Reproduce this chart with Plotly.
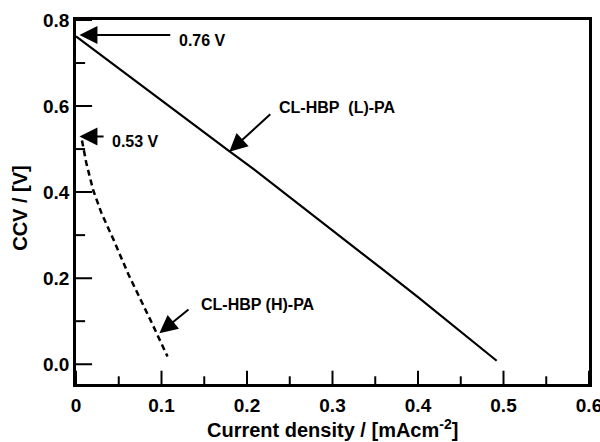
import plotly.graph_objects as go

# ---- data ----
l_pa_x = [0.0, 0.10, 0.18, 0.2035, 0.30, 0.3594, 0.40, 0.492]
l_pa_y = [0.762, 0.612, 0.494, 0.460, 0.312, 0.219, 0.156, 0.008]

h_pa_x = [0.007, 0.012, 0.020, 0.030, 0.044, 0.061, 0.087, 0.107]
h_pa_y = [0.520, 0.468, 0.405, 0.350, 0.289, 0.210, 0.103, 0.018]

x_tickvals = [0, 0.1, 0.2, 0.3, 0.4, 0.5, 0.6]
x_ticktext = ["0", "0.1", "0.2", "0.3", "0.4", "0.5", "0.6"]
x_minor = [0.05, 0.15, 0.25, 0.35, 0.45, 0.55]
y_tickvals = [0.0, 0.2, 0.4, 0.6, 0.8]
y_ticktext = ["0.0", "0.2", "0.4", "0.6", "0.8"]
y_minor = [0.1, 0.3, 0.5, 0.7]

X_RANGE = [0, 0.6]
Y_RANGE = [-0.046, 0.8]

FONT = "Liberation Sans, Arial, sans-serif"

fig = go.Figure()
fig.add_trace(go.Scatter(x=l_pa_x, y=l_pa_y, mode="lines",
                         line=dict(color="black", width=2.2), showlegend=False))
fig.add_trace(go.Scatter(x=h_pa_x, y=h_pa_y, mode="lines",
                         line=dict(color="black", width=2.5, dash="6px,4px"),
                         showlegend=False))

# inward tick marks: line markers sitting on the axis edges, half clipped by the plot area
def tick_marks(xs, ys, symbol, size):
    fig.add_trace(go.Scatter(x=xs, y=ys, mode="markers", cliponaxis=True,
                             hoverinfo="skip", showlegend=False,
                             marker=dict(symbol=symbol, size=size, color="black",
                                         line=dict(color="black", width=2))))

tick_marks(x_tickvals, [Y_RANGE[0]] * len(x_tickvals), "line-ns", 19)
tick_marks(x_minor, [Y_RANGE[0]] * len(x_minor), "line-ns", 11)
tick_marks([X_RANGE[0]] * len(y_tickvals), y_tickvals, "line-ew", 23)
tick_marks([X_RANGE[0]] * len(y_minor), y_minor, "line-ew", 13)

tickfont = dict(family=FONT, size=19, color="black", weight="bold")
axis_common = dict(showline=True, linecolor="black", linewidth=2.5, mirror=True,
                   ticks="", showgrid=False, zeroline=False, automargin=False,
                   ticklabeloverflow="allow", tickfont=tickfont, tickmode="array")

fig.update_xaxes(range=X_RANGE, tickvals=x_tickvals, ticktext=x_ticktext,
                 ticklabelstandoff=2, **axis_common)
fig.update_yaxes(range=Y_RANGE, tickvals=y_tickvals, ticktext=y_ticktext,
                 **axis_common)

ann_font = dict(family=FONT, size=16, color="black", weight="bold")
arrow_style = dict(showarrow=True, arrowhead=2, arrowsize=1.8, arrowwidth=2,
                   arrowcolor="black", axref="x", ayref="y", text="", xref="x", yref="y")

# arrows: tip (x, y), tail (ax, ay)
fig.add_annotation(x=0.004, y=0.765, ax=0.112, ay=0.765, **arrow_style)
fig.add_annotation(x=0.004, y=0.529, ax=0.034, ay=0.529, **arrow_style)
fig.add_annotation(x=0.1793, y=0.494, ax=0.229, ay=0.584, **arrow_style)
fig.add_annotation(x=0.0975, y=0.072, ax=0.1333, ay=0.130, **arrow_style)

labels = [
    (0.118, 0.752, "0.76 V"),
    (0.040, 0.518, "0.53 V"),
    (0.235, 0.596, "CL-HBP\u00a0\u00a0(L)-PA"),
    (0.144, 0.138, "CL-HBP (H)-PA"),
]
for lx, ly, txt in labels:
    fig.add_annotation(x=lx, y=ly, text=txt, showarrow=False, xanchor="left",
                       yanchor="middle", font=ann_font, xref="x", yref="y")

title_font = dict(family=FONT, size=20, color="black", weight="bold")
fig.add_annotation(text="CCV / [V]", textangle=-90, xref="paper", x=0, xshift=-56,
                   yref="y", y=0.3635, showarrow=False, xanchor="center",
                   yanchor="middle", font=title_font)
fig.add_annotation(text="Current density / [mAcm<sup>-2</sup>]", xref="paper", x=0.5,
                   yref="paper", y=0, yshift=-44, showarrow=False, xanchor="center",
                   yanchor="middle", font=title_font)

fig.update_layout(width=600, height=442, margin=dict(l=76, r=11, t=20, b=58),
                  plot_bgcolor="white", paper_bgcolor="white")

fig.write_html("out.html", config={"displayModeBar": False},
               post_script="document.body.style.margin='0';")
